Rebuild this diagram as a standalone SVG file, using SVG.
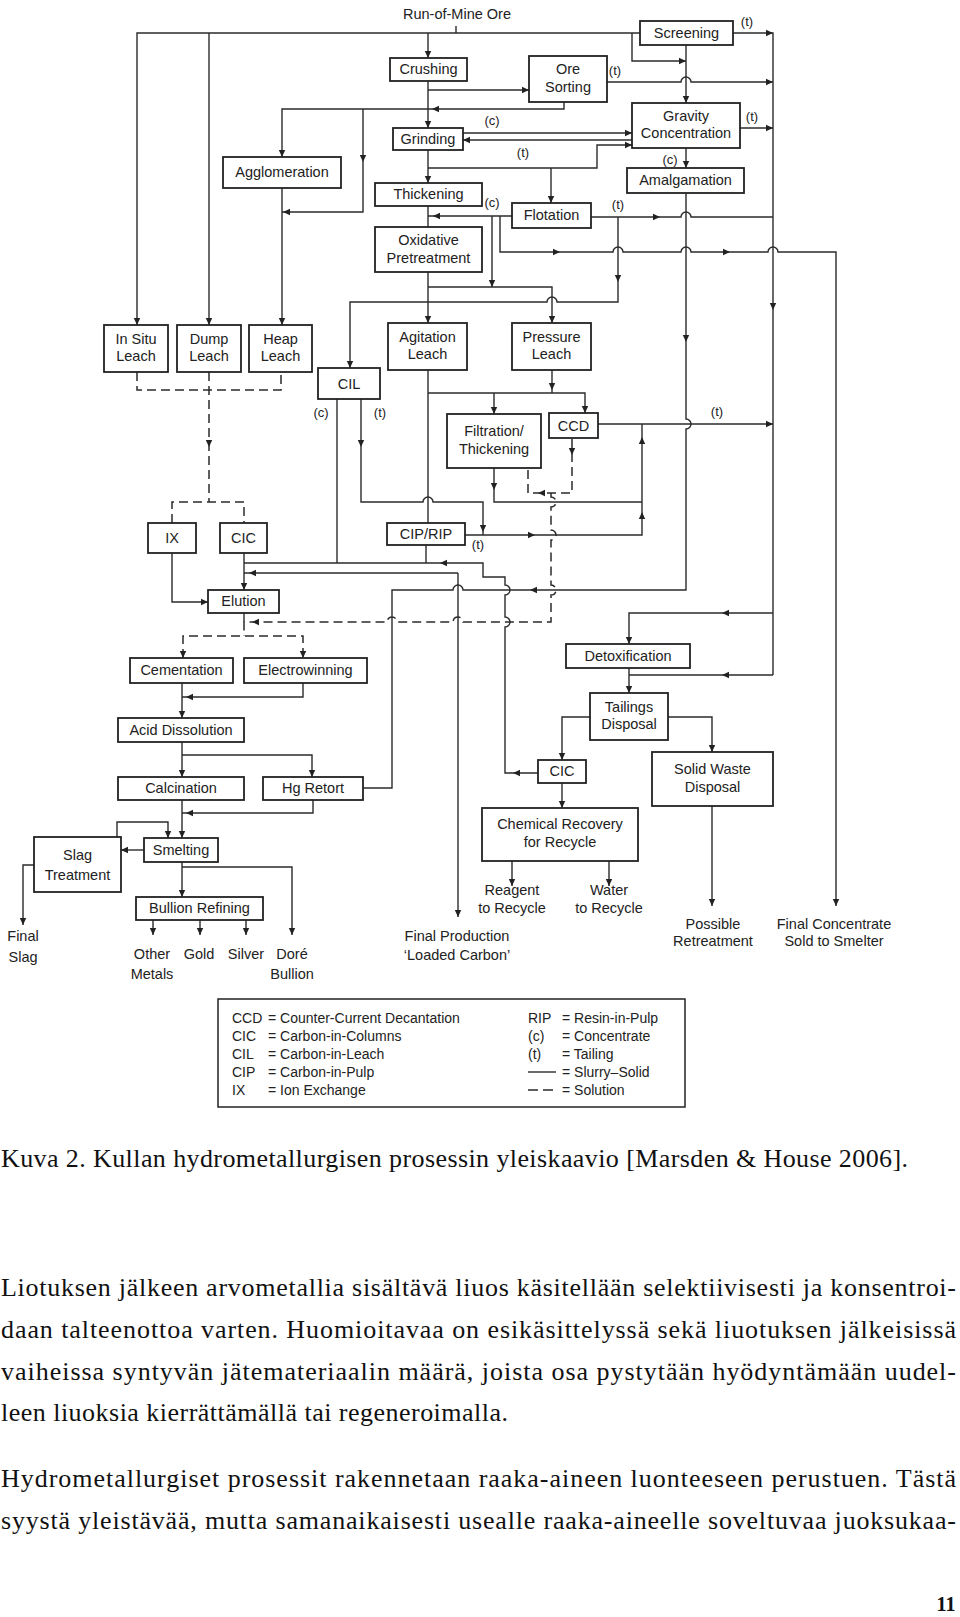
<svg xmlns="http://www.w3.org/2000/svg" xmlns:xlink="http://www.w3.org/1999/xlink" width="960" height="1617" viewBox="0 0 960 1617">
<style>
.ln{fill:none;stroke:#2b2b2b;stroke-width:1.4}
.ds{fill:none;stroke:#2b2b2b;stroke-width:1.5;stroke-dasharray:9,5}
.bx{fill:#fff;stroke:#222;stroke-width:1.8}
.t{font-family:"Liberation Sans",Arial,sans-serif;font-size:14.5px;fill:#222;text-anchor:middle}
.s{font-family:"Liberation Sans",Arial,sans-serif;font-size:13px;fill:#222;text-anchor:middle}
.lg{font-family:"Liberation Sans",Arial,sans-serif;font-size:14px;fill:#222}
.pg{font-family:"Liberation Serif","Times New Roman",serif;font-size:26px;fill:#111}
</style>
<defs>
<path id="a" d="M0,0 L-7,-3.2 L-7,3.2 Z" fill="#222"/>
</defs>
<rect width="960" height="1617" fill="#fff"/>
<g id="connectors">
<g class="ln">
<path d="M137,325 V33 H640"/>
<path d="M209,33 V325"/>
<path d="M428,33 V58"/>
<path d="M456,26 V33"/>
<path d="M632,33 V61 H686"/>
<path d="M686,45 V103"/>
<path d="M733,33 H773 V675"/>
<path d="M607,82 H681 a5,5 0 0 1 10,0 H773"/>
<path d="M740,128 H773"/>
<path d="M591,217 H681 a5,5 0 0 1 10,0 H773"/>
<path d="M500,216 V252 H613 a5,5 0 0 1 10,0 H681 a5,5 0 0 1 10,0 H768 a5,5 0 0 1 10,0 H836 V906"/>
<path d="M428,81 V128"/>
<path d="M428,90 H529"/>
<path d="M564,102 V109 H282 V157"/>
<path d="M363,109 V212 H282"/>
<path d="M282,188 V325"/>
<path d="M463,133 H632"/>
<path d="M632,140 H463"/>
<path d="M428,150 V183"/>
<path d="M428,168 H597 V145 H632"/>
<path d="M551,168 V203"/>
<path d="M686,148 V168"/>
<path d="M686,193 V419 a5,5 0 0 1 0,10 V590 H463 a5,5 0 0 0 -10,0 H392 V788 H363"/>
<path d="M428,206 V227"/>
<path d="M512,216 H428"/>
<path d="M492,216 V287"/>
<path d="M428,272 V323"/>
<path d="M428,287 H552 V323"/>
<path d="M618,217 V302 H557 a5,5 0 0 0 -10,0 H350 V368"/>
<path d="M428,370 V523"/>
<path d="M428,393 H585 V413"/>
<path d="M494,393 V414"/>
<path d="M552,370 V393"/>
<path d="M361,399 V502 H423 a5,5 0 0 1 10,0 H483 V535"/>
<path d="M337,399 V563"/>
<path d="M494,468 V502 H642"/>
<path d="M465,535 H642 V424"/>
<path d="M598,424 H773"/>
<path d="M426,545 V563"/>
<path d="M538,773 H505 V627 a5,5 0 0 0 0,-10 V595 a5,5 0 0 0 0,-10 V577 H483 V563 H244"/>
<path d="M458,573 H244"/>
<path d="M458,573 V917"/>
<path d="M244,553 V590"/>
<path d="M172,553 V602 H208"/>
<path d="M244,613 V622"/>
<path d="M182,683 V718"/>
<path d="M303,683 V697 H182"/>
<path d="M182,742 V777"/>
<path d="M182,755 H312 V777"/>
<path d="M182,800 V838"/>
<path d="M313,800 V813 H182"/>
<path d="M117,837 V822 H168 V838"/>
<path d="M144,850 H121"/>
<path d="M182,862 V897"/>
<path d="M182,867 H292 V935"/>
<path d="M153,920 V935 M200,920 V935 M246,920 V935"/>
<path d="M34,865 H23 V925"/>
<path d="M773,613 H629 V644"/>
<path d="M629,668 V693"/>
<path d="M773,675 H629"/>
<path d="M590,717 H562 V760"/>
<path d="M668,717 H712 V752"/>
<path d="M562,783 V808"/>
<path d="M512,861 V886 M609,861 V886"/>
<path d="M712,806 V906"/>
</g>
<g class="ds">
<path d="M137,372 V390 H281 V372"/>
<path d="M209,372 V502"/>
<path d="M172,523 V502 H244 V523"/>
<path d="M528,470 V493 H572 V438"/>
<path d="M551,493 V497 a5,5 0 0 1 0,10 V530 a5,5 0 0 1 0,10 V585 a5,5 0 0 1 0,10 V622 H463 a5,5 0 0 0 -10,0 H397 a5,5 0 0 0 -10,0 H244 V636"/>
<path d="M183,658 V636 H303 V658"/>
</g>
<g id="arrows">
<use xlink:href="#a" transform="translate(137,325) rotate(90)"/>
<use xlink:href="#a" transform="translate(209,325) rotate(90)"/>
<use xlink:href="#a" transform="translate(428,58) rotate(90)"/>
<use xlink:href="#a" transform="translate(686,61)"/>
<use xlink:href="#a" transform="translate(686,103) rotate(90)"/>
<use xlink:href="#a" transform="translate(773,33)"/>
<use xlink:href="#a" transform="translate(773,82)"/>
<use xlink:href="#a" transform="translate(773,128)"/>
<use xlink:href="#a" transform="translate(773,310) rotate(90)"/>
<use xlink:href="#a" transform="translate(660,217)"/>
<use xlink:href="#a" transform="translate(560,252)"/>
<use xlink:href="#a" transform="translate(730,252)"/>
<use xlink:href="#a" transform="translate(836,906) rotate(90)"/>
<use xlink:href="#a" transform="translate(428,128) rotate(90)"/>
<use xlink:href="#a" transform="translate(529,90)"/>
<use xlink:href="#a" transform="translate(432,109) rotate(180)"/>
<use xlink:href="#a" transform="translate(282,157) rotate(90)"/>
<use xlink:href="#a" transform="translate(363,162) rotate(90)"/>
<use xlink:href="#a" transform="translate(283,212) rotate(180)"/>
<use xlink:href="#a" transform="translate(282,325) rotate(90)"/>
<use xlink:href="#a" transform="translate(632,133)"/>
<use xlink:href="#a" transform="translate(463,140) rotate(180)"/>
<use xlink:href="#a" transform="translate(428,183) rotate(90)"/>
<use xlink:href="#a" transform="translate(632,145)"/>
<use xlink:href="#a" transform="translate(551,203) rotate(90)"/>
<use xlink:href="#a" transform="translate(686,168) rotate(90)"/>
<use xlink:href="#a" transform="translate(686,342) rotate(90)"/>
<use xlink:href="#a" transform="translate(530,590) rotate(180)"/>
<use xlink:href="#a" transform="translate(433,216) rotate(180)"/>
<use xlink:href="#a" transform="translate(492,287) rotate(90)"/>
<use xlink:href="#a" transform="translate(428,323) rotate(90)"/>
<use xlink:href="#a" transform="translate(552,323) rotate(90)"/>
<use xlink:href="#a" transform="translate(618,282) rotate(90)"/>
<use xlink:href="#a" transform="translate(350,368) rotate(90)"/>
<use xlink:href="#a" transform="translate(585,413) rotate(90)"/>
<use xlink:href="#a" transform="translate(494,414) rotate(90)"/>
<use xlink:href="#a" transform="translate(552,390) rotate(90)"/>
<use xlink:href="#a" transform="translate(361,447) rotate(90)"/>
<use xlink:href="#a" transform="translate(483,532) rotate(90)"/>
<use xlink:href="#a" transform="translate(494,490) rotate(90)"/>
<use xlink:href="#a" transform="translate(535,535)"/>
<use xlink:href="#a" transform="translate(642,512) rotate(270)"/>
<use xlink:href="#a" transform="translate(642,437) rotate(270)"/>
<use xlink:href="#a" transform="translate(773,424)"/>
<use xlink:href="#a" transform="translate(513,773) rotate(180)"/>
<use xlink:href="#a" transform="translate(440,563) rotate(180)"/>
<use xlink:href="#a" transform="translate(249,573) rotate(180)"/>
<use xlink:href="#a" transform="translate(458,917) rotate(90)"/>
<use xlink:href="#a" transform="translate(244,590) rotate(90)"/>
<use xlink:href="#a" transform="translate(208,602)"/>
<use xlink:href="#a" transform="translate(182,718) rotate(90)"/>
<use xlink:href="#a" transform="translate(186,697) rotate(180)"/>
<use xlink:href="#a" transform="translate(182,777) rotate(90)"/>
<use xlink:href="#a" transform="translate(312,777) rotate(90)"/>
<use xlink:href="#a" transform="translate(182,838) rotate(90)"/>
<use xlink:href="#a" transform="translate(186,813) rotate(180)"/>
<use xlink:href="#a" transform="translate(168,838) rotate(90)"/>
<use xlink:href="#a" transform="translate(121,850) rotate(180)"/>
<use xlink:href="#a" transform="translate(182,897) rotate(90)"/>
<use xlink:href="#a" transform="translate(292,935) rotate(90)"/>
<use xlink:href="#a" transform="translate(153,935) rotate(90)"/>
<use xlink:href="#a" transform="translate(200,935) rotate(90)"/>
<use xlink:href="#a" transform="translate(246,935) rotate(90)"/>
<use xlink:href="#a" transform="translate(23,925) rotate(90)"/>
<use xlink:href="#a" transform="translate(722,613) rotate(180)"/>
<use xlink:href="#a" transform="translate(629,644) rotate(90)"/>
<use xlink:href="#a" transform="translate(629,693) rotate(90)"/>
<use xlink:href="#a" transform="translate(722,675) rotate(180)"/>
<use xlink:href="#a" transform="translate(562,760) rotate(90)"/>
<use xlink:href="#a" transform="translate(712,752) rotate(90)"/>
<use xlink:href="#a" transform="translate(562,808) rotate(90)"/>
<use xlink:href="#a" transform="translate(512,886) rotate(90)"/>
<use xlink:href="#a" transform="translate(609,886) rotate(90)"/>
<use xlink:href="#a" transform="translate(712,906) rotate(90)"/>
<use xlink:href="#a" transform="translate(209,447) rotate(90)"/>
<use xlink:href="#a" transform="translate(572,455) rotate(90)"/>
<use xlink:href="#a" transform="translate(538,493) rotate(180)"/>
<use xlink:href="#a" transform="translate(252,622) rotate(180)"/>
<use xlink:href="#a" transform="translate(183,658) rotate(90)"/>
<use xlink:href="#a" transform="translate(303,658) rotate(90)"/>
</g>
<g id="flow-labels">
<text class="t" x="457" y="19">Run-of-Mine Ore</text>
<text class="s" x="747" y="26">(t)</text>
<text class="s" x="615" y="75">(t)</text>
<text class="s" x="492" y="125">(c)</text>
<text class="s" x="752" y="121">(t)</text>
<text class="s" x="523" y="157">(t)</text>
<text class="s" x="670" y="164">(c)</text>
<text class="s" x="492" y="207">(c)</text>
<text class="s" x="618" y="209">(t)</text>
<text class="s" x="321" y="417">(c)</text>
<text class="s" x="380" y="417">(t)</text>
<text class="s" x="717" y="416">(t)</text>
<text class="s" x="478" y="549">(t)</text>
<text class="t" x="23" y="941">Final</text>
<text class="t" x="23" y="962">Slag</text>
<text class="t" x="152" y="959">Other</text>
<text class="t" x="152" y="979">Metals</text>
<text class="t" x="199" y="959">Gold</text>
<text class="t" x="246" y="959">Silver</text>
<text class="t" x="292" y="959">Doré</text>
<text class="t" x="292" y="979">Bullion</text>
<text class="t" x="457" y="941">Final Production</text>
<text class="t" x="457" y="960">‘Loaded Carbon’</text>
<text class="t" x="512" y="895">Reagent</text>
<text class="t" x="512" y="913">to Recycle</text>
<text class="t" x="609" y="895">Water</text>
<text class="t" x="609" y="913">to Recycle</text>
<text class="t" x="713" y="929">Possible</text>
<text class="t" x="713" y="946">Retreatment</text>
<text class="t" x="834" y="929">Final Concentrate</text>
<text class="t" x="834" y="946">Sold to Smelter</text>
</g>
</g>
<g id="screening"><rect class="bx" x="640" y="21" width="93" height="24"/><text class="t" x="686.5" y="38">Screening</text></g>
<g id="crushing"><rect class="bx" x="390" y="58" width="77" height="23"/><text class="t" x="428.5" y="74">Crushing</text></g>
<g id="ore-sorting"><rect class="bx" x="529" y="56" width="78" height="46"/><text class="t" x="568" y="74">Ore</text><text class="t" x="568" y="92">Sorting</text></g>
<g id="gravity"><rect class="bx" x="632" y="103" width="108" height="45"/><text class="t" x="686" y="121">Gravity</text><text class="t" x="686" y="138">Concentration</text></g>
<g id="grinding"><rect class="bx" x="393" y="128" width="70" height="22"/><text class="t" x="428" y="144">Grinding</text></g>
<g id="agglomeration"><rect class="bx" x="223" y="157" width="118" height="31"/><text class="t" x="282" y="177">Agglomeration</text></g>
<g id="amalgamation"><rect class="bx" x="627" y="168" width="117" height="25"/><text class="t" x="685.5" y="185">Amalgamation</text></g>
<g id="thickening"><rect class="bx" x="375" y="183" width="107" height="23"/><text class="t" x="428.5" y="199">Thickening</text></g>
<g id="flotation"><rect class="bx" x="512" y="203" width="79" height="25"/><text class="t" x="551.5" y="220">Flotation</text></g>
<g id="oxidative"><rect class="bx" x="375" y="227" width="107" height="45"/><text class="t" x="428.5" y="245">Oxidative</text><text class="t" x="428.5" y="263">Pretreatment</text></g>
<g id="insitu"><rect class="bx" x="104" y="325" width="64" height="47"/><text class="t" x="136" y="344">In Situ</text><text class="t" x="136" y="361">Leach</text></g>
<g id="dump"><rect class="bx" x="177" y="325" width="64" height="47"/><text class="t" x="209" y="344">Dump</text><text class="t" x="209" y="361">Leach</text></g>
<g id="heap"><rect class="bx" x="249" y="325" width="63" height="47"/><text class="t" x="280.5" y="344">Heap</text><text class="t" x="280.5" y="361">Leach</text></g>
<g id="agitation"><rect class="bx" x="388" y="323" width="79" height="47"/><text class="t" x="427.5" y="342">Agitation</text><text class="t" x="427.5" y="359">Leach</text></g>
<g id="pressure"><rect class="bx" x="512" y="323" width="79" height="47"/><text class="t" x="551.5" y="342">Pressure</text><text class="t" x="551.5" y="359">Leach</text></g>
<g id="cil"><rect class="bx" x="318" y="368" width="62" height="31"/><text class="t" x="349" y="389">CIL</text></g>
<g id="filtration"><rect class="bx" x="447" y="414" width="94" height="54"/><text class="t" x="494" y="436">Filtration/</text><text class="t" x="494" y="454">Thickening</text></g>
<g id="ccd"><rect class="bx" x="549" y="413" width="49" height="25"/><text class="t" x="573.5" y="431">CCD</text></g>
<g id="ix"><rect class="bx" x="148" y="523" width="48" height="30"/><text class="t" x="172" y="543">IX</text></g>
<g id="cic1"><rect class="bx" x="220" y="523" width="47" height="30"/><text class="t" x="243.5" y="543">CIC</text></g>
<g id="cip-rip"><rect class="bx" x="387" y="523" width="78" height="22"/><text class="t" x="426" y="539">CIP/RIP</text></g>
<g id="elution"><rect class="bx" x="208" y="590" width="71" height="23"/><text class="t" x="243.5" y="606">Elution</text></g>
<g id="cementation"><rect class="bx" x="130" y="658" width="103" height="25"/><text class="t" x="181.5" y="675">Cementation</text></g>
<g id="electrowinning"><rect class="bx" x="244" y="658" width="123" height="25"/><text class="t" x="305.5" y="675">Electrowinning</text></g>
<g id="acid"><rect class="bx" x="118" y="718" width="126" height="24"/><text class="t" x="181" y="735">Acid Dissolution</text></g>
<g id="calcination"><rect class="bx" x="118" y="777" width="126" height="23"/><text class="t" x="181" y="793">Calcination</text></g>
<g id="hg-retort"><rect class="bx" x="263" y="777" width="100" height="23"/><text class="t" x="313" y="793">Hg Retort</text></g>
<g id="smelting"><rect class="bx" x="144" y="838" width="74" height="24"/><text class="t" x="181" y="855">Smelting</text></g>
<g id="slag"><rect class="bx" x="34" y="837" width="87" height="55"/><text class="t" x="77.5" y="860">Slag</text><text class="t" x="77.5" y="880">Treatment</text></g>
<g id="bullion"><rect class="bx" x="136" y="897" width="127" height="23"/><text class="t" x="199.5" y="913">Bullion Refining</text></g>
<g id="detox"><rect class="bx" x="566" y="644" width="124" height="24"/><text class="t" x="628" y="661">Detoxification</text></g>
<g id="tailings"><rect class="bx" x="590" y="693" width="78" height="47"/><text class="t" x="629" y="712">Tailings</text><text class="t" x="629" y="729">Disposal</text></g>
<g id="cic2"><rect class="bx" x="538" y="760" width="48" height="23"/><text class="t" x="562" y="776">CIC</text></g>
<g id="solid-waste"><rect class="bx" x="652" y="752" width="121" height="54"/><text class="t" x="712.5" y="774">Solid Waste</text><text class="t" x="712.5" y="792">Disposal</text></g>
<g id="chem-recovery"><rect class="bx" x="482" y="808" width="156" height="53"/><text class="t" x="560" y="829">Chemical Recovery</text><text class="t" x="560" y="847">for Recycle</text></g>
<g id="legend">
<rect x="218" y="999" width="467" height="108" fill="#fff" stroke="#222" stroke-width="1.5"/>
<text class="lg" x="232" y="1023">CCD</text><text class="lg" x="268" y="1023">= Counter-Current Decantation</text>
<text class="lg" x="232" y="1041">CIC</text><text class="lg" x="268" y="1041">= Carbon-in-Columns</text>
<text class="lg" x="232" y="1059">CIL</text><text class="lg" x="268" y="1059">= Carbon-in-Leach</text>
<text class="lg" x="232" y="1077">CIP</text><text class="lg" x="268" y="1077">= Carbon-in-Pulp</text>
<text class="lg" x="232" y="1095">IX</text><text class="lg" x="268" y="1095">= Ion Exchange</text>
<text class="lg" x="528" y="1023">RIP</text><text class="lg" x="562" y="1023">= Resin-in-Pulp</text>
<text class="lg" x="528" y="1041">(c)</text><text class="lg" x="562" y="1041">= Concentrate</text>
<text class="lg" x="528" y="1059">(t)</text><text class="lg" x="562" y="1059">= Tailing</text>
<path class="ln" d="M528,1072 H556"/><text class="lg" x="562" y="1077">= Slurry–Solid</text>
<path class="ds" d="M528,1090 H556" style="stroke-dasharray:10,5"/><text class="lg" x="562" y="1095">= Solution</text>
</g>
<g id="page-text">
<text class="pg" x="1" y="1167" textLength="907" lengthAdjust="spacing">Kuva 2. Kullan hydrometallurgisen prosessin yleiskaavio [Marsden &amp; House 2006].</text>
<text class="pg" x="1" y="1296" textLength="955" lengthAdjust="spacing">Liotuksen jälkeen arvometallia sisältävä liuos käsitellään selektiivisesti ja konsentroi-</text>
<text class="pg" x="1" y="1338" textLength="955" lengthAdjust="spacing">daan talteenottoa varten. Huomioitavaa on esikäsittelyssä sekä liuotuksen jälkeisissä</text>
<text class="pg" x="1" y="1380" textLength="955" lengthAdjust="spacing">vaiheissa syntyvän jätemateriaalin määrä, joista osa pystytään hyödyntämään uudel-</text>
<text class="pg" x="1" y="1421" textLength="507" lengthAdjust="spacing">leen liuoksia kierrättämällä tai regeneroimalla.</text>
<text class="pg" x="1" y="1487" textLength="955" lengthAdjust="spacing">Hydrometallurgiset prosessit rakennetaan raaka-aineen luonteeseen perustuen. Tästä</text>
<text class="pg" x="1" y="1529" textLength="955" lengthAdjust="spacing">syystä yleistävää, mutta samanaikaisesti usealle raaka-aineelle soveltuvaa juoksukaa-</text>
<text class="pg" x="946" y="1611" text-anchor="middle" style="font-weight:bold;font-size:20px">11</text>
</g>
</svg>
